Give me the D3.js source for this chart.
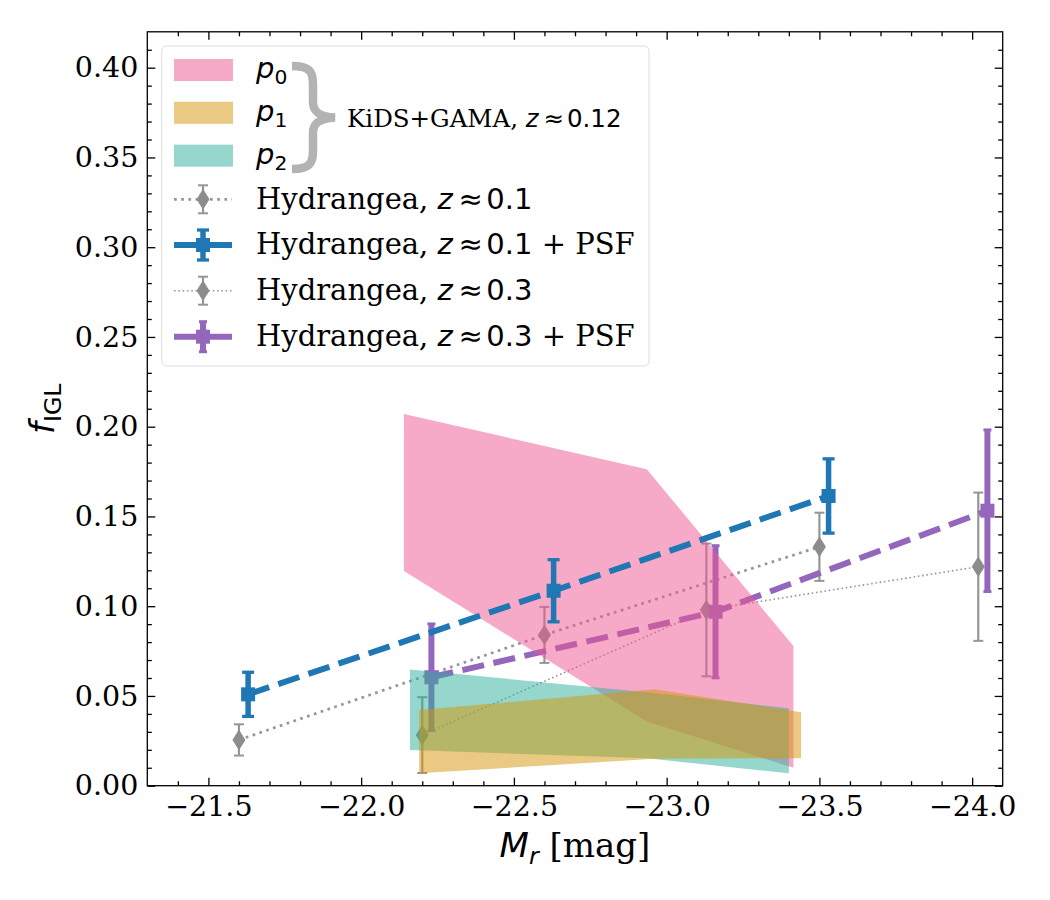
<!DOCTYPE html>
<html>
<head>
<meta charset="utf-8">
<script src="https://cdn.jsdelivr.net/npm/d3@7"></script>
<style>
  body { margin: 0; background: #fff; }
  text { white-space: pre; }
</style>
</head>
<body>
<div id="chart"></div>
<script>
// ---- values ----
// KiDS+GAMA bands (fill between lo and hi)
var p0_M  = [-22.14, -22.935, -23.415];
var p0_lo = [0.1196, 0.0357, 0.0100];
var p0_hi = [0.2071, 0.1763, 0.0778];
var p1_M  = [-22.19, -22.96, -23.44];
var p1_lo = [0.0069, 0.0150, 0.0153];
var p1_hi = [0.0422, 0.0537, 0.0409];
var p2_M  = [-22.16, -22.935, -23.40];
var p2_lo = [0.0199, 0.0153, 0.0069];
var p2_hi = [0.0648, 0.0520, 0.0431];

// Hydrangea points
var h01_M   = [-21.60, -22.60, -23.50];
var h01_f   = [0.0255, 0.0840, 0.1331];
var h01_err = [0.0087, 0.0156, 0.0190];
var h01psf_M   = [-21.63, -22.63, -23.53];
var h01psf_f   = [0.0509, 0.1086, 0.1614];
var h01psf_err = [0.0123, 0.0173, 0.0207];
var h03_M   = [-22.20, -23.13, -24.02];
var h03_f   = [0.0282, 0.0979, 0.1220];
var h03_err = [0.0211, 0.0370, 0.0413];
var h03psf_M   = [-22.23, -23.16, -24.05];
var h03psf_f   = [0.0604, 0.0969, 0.1532];
var h03psf_err = [0.0297, 0.0368, 0.0450];

var xTicks = [-21.5, -22.0, -22.5, -23.0, -23.5, -24.0];
var yTicks = [0, 0.05, 0.10, 0.15, 0.20, 0.25, 0.30, 0.35, 0.40];

var pinkC = "rgba(237,85,143,0.5)";
var goldC = "rgba(213,149,5,0.5)";
var tealC = "rgba(45,175,155,0.5)";
var blueC = "#1f77b4";
var purpC = "#9467bd";
var greyC = "#969696";

// ---- setup ----
var W = 1050, H = 900;
var svg = d3.select("#chart").append("svg")
    .attr("width", W).attr("height", H)
    .style("font-family", "'DejaVu Serif'");

var x = d3.scaleLinear().domain([-21.3, -24.1]).range([147.3, 1002.7]);
var y = d3.scaleLinear().domain([0, 0.42]).range([785.7, 31.8]);

// mathtext-ish label: parts of {t, f: serif|sans|it, sub, dx}
function mathText(sel, parts, size) {
  var shift = 0;
  parts.forEach(function(p) {
    var ts = sel.append("tspan").text(p.t);
    var fam = p.f === "serif" ? "DejaVu Serif" : "DejaVu Sans";
    ts.style("font-family", "'" + fam + "'");
    if (p.f === "it") ts.style("font-style", "italic");
    var want = p.sub ? 0.22 * size : 0;
    if (want !== shift) { ts.attr("dy", want - shift); shift = want; }
    if (p.dx) ts.attr("dx", p.dx);
    ts.style("font-size", (p.sub ? 0.7 * size : size) + "px");
  });
  return sel;
}

// "z ≈ v" the way mathtext spaces it
function zApprox(v, size) {
  return [{t: "z", f: "it"}, {t: "≈", f: "sans", dx: 0.2 * size}, {t: v, f: "sans", dx: 0.12 * size}];
}

// ---- series draw helpers ----
function drawBand(M, lo, hi, color) {
  var pts = M.map(function(m, i) { return {m: m, lo: lo[i], hi: hi[i]}; });
  svg.append("path").datum(pts)
    .attr("fill", color)
    .attr("d", d3.area().x(function(d){ return x(d.m); })
      .y0(function(d){ return y(d.lo); }).y1(function(d){ return y(d.hi); }));
}

function drawErrSeries(M, f, err, s) {
  var g = svg.append("g");
  var pts = M.map(function(m, i) { return {m: m, f: f[i], e: err[i]}; });
  g.append("path").datum(pts)
    .attr("fill", "none").attr("stroke", s.color).attr("stroke-width", s.lw)
    .attr("stroke-dasharray", s.dash)
    .attr("d", d3.line().x(function(d){ return x(d.m); }).y(function(d){ return y(d.f); }));
  pts.forEach(function(d) {
    var cx = x(d.m), cy = y(d.f);
    errMark(g, cx, y(d.f + d.e), y(d.f - d.e), s);
    marker(g, cx, cy, s);
  });
}

function errMark(g, cx, yTop, yBot, s) {
  g.append("line").attr("x1", cx).attr("x2", cx).attr("y1", yTop).attr("y2", yBot)
    .attr("stroke", s.ecolor || s.color).attr("stroke-width", s.elw);
  [yTop, yBot].forEach(function(yy) {
    g.append("line").attr("x1", cx - s.cap / 2).attr("x2", cx + s.cap / 2)
      .attr("y1", yy).attr("y2", yy)
      .attr("stroke", s.ecolor || s.color).attr("stroke-width", s.capw);
  });
}

function marker(g, cx, cy, s) {
  if (s.mk === "sq") {
    g.append("rect").attr("x", cx - 7).attr("y", cy - 7).attr("width", 14).attr("height", 14)
      .attr("fill", s.color);
  } else {
    g.append("path")
      .attr("d", "M" + cx + "," + (cy - 9.5) + "L" + (cx + 6) + "," + cy + "L" + cx + "," + (cy + 9.5) + "L" + (cx - 6) + "," + cy + "Z")
      .attr("fill", "#8c8c8c").attr("stroke", "#8c8c8c").attr("stroke-width", 1);
  }
}

var sH01 = {color: greyC, lw: 2.7, dash: "2.7,4.5", elw: 2.2, cap: 10, capw: 2, mk: "d"};
var sH03 = {color: greyC, lw: 1.6, dash: "1.6,2.7", elw: 2.2, cap: 10, capw: 2, mk: "d"};
var sPSF01 = {color: blueC, lw: 6, dash: "22.2,9.6", elw: 5.5, cap: 12, capw: 3.3, mk: "sq"};
var sPSF03 = {color: purpC, lw: 6, dash: "22.2,9.6", elw: 6, cap: 8, capw: 3, mk: "sq"};

// draw order as in the figure: grey + purple below the bands, blue on top
drawErrSeries(h01_M, h01_f, h01_err, sH01);
drawErrSeries(h03_M, h03_f, h03_err, sH03);
drawErrSeries(h03psf_M, h03psf_f, h03psf_err, sPSF03);
drawBand(p0_M, p0_lo, p0_hi, pinkC);
drawBand(p2_M, p2_lo, p2_hi, tealC);
drawBand(p1_M, p1_lo, p1_hi, goldC);
drawErrSeries(h01psf_M, h01psf_f, h01psf_err, sPSF01);

// ---- axes ----
var x0 = x.range()[0], x1 = x.range()[1], yb = y.range()[0], yt = y.range()[1];
var xMinor = d3.range(-21.4, -24.05, -0.1).map(function(v){ return +v.toFixed(1); })
  .filter(function(v){ return xTicks.indexOf(v) < 0; });
var yMinor = d3.range(0.01, 0.415, 0.01).map(function(v){ return +v.toFixed(2); })
  .filter(function(v){ return Math.round(v * 100) % 5 !== 0; });

function styleAxis(g) {
  g.select(".domain").remove();
  g.selectAll("line").attr("stroke", "#000").attr("stroke-width", 1.3);
  g.selectAll("text").attr("fill", "#000").style("font-family", "'DejaVu Serif'").style("font-size", "28.5px");
}

svg.append("g").attr("transform", "translate(0," + yb + ")")
  .call(d3.axisBottom(x).tickValues(xTicks).tickFormat(d3.format(".1f")).tickSizeInner(-8).tickSizeOuter(0).tickPadding(10))
  .call(styleAxis);
svg.append("g").attr("transform", "translate(0," + yb + ")")
  .call(d3.axisBottom(x).tickValues(xMinor).tickFormat("").tickSizeInner(-4.5).tickSizeOuter(0))
  .call(styleAxis);
svg.append("g").attr("transform", "translate(0," + yt + ")")
  .call(d3.axisTop(x).tickValues(xTicks).tickFormat("").tickSizeInner(-8).tickSizeOuter(0))
  .call(styleAxis);
svg.append("g").attr("transform", "translate(0," + yt + ")")
  .call(d3.axisTop(x).tickValues(xMinor).tickFormat("").tickSizeInner(-4.5).tickSizeOuter(0))
  .call(styleAxis);

svg.append("g").attr("transform", "translate(" + x0 + ",0)")
  .call(d3.axisLeft(y).tickValues(yTicks).tickFormat(d3.format(".2f")).tickSizeInner(-8).tickSizeOuter(0).tickPadding(9))
  .call(styleAxis);
svg.append("g").attr("transform", "translate(" + x0 + ",0)")
  .call(d3.axisLeft(y).tickValues(yMinor).tickFormat("").tickSizeInner(-4.5).tickSizeOuter(0))
  .call(styleAxis);
svg.append("g").attr("transform", "translate(" + x1 + ",0)")
  .call(d3.axisRight(y).tickValues(yTicks).tickFormat("").tickSizeInner(-8).tickSizeOuter(0))
  .call(styleAxis);
svg.append("g").attr("transform", "translate(" + x1 + ",0)")
  .call(d3.axisRight(y).tickValues(yMinor).tickFormat("").tickSizeInner(-4.5).tickSizeOuter(0))
  .call(styleAxis);

svg.append("rect").attr("x", x0).attr("y", yt).attr("width", x1 - x0).attr("height", yb - yt)
  .attr("fill", "none").attr("stroke", "#000").attr("stroke-width", 1.3);

// axis labels
mathText(svg.append("text").attr("x", (x0 + x1) / 2).attr("y", 857).attr("text-anchor", "middle"),
  [{t: "M", f: "it"}, {t: "r", f: "it", sub: true}, {t: " [mag]", f: "serif"}], 34);
mathText(svg.append("text").attr("transform", "translate(54," + ((yb + yt) / 2) + ") rotate(-90)")
  .attr("text-anchor", "middle"),
  [{t: "f", f: "it"}, {t: "IGL", f: "sans", sub: true}], 34);

// ---- legend ----
var lg = svg.append("g");
lg.append("rect").attr("x", 161.7).attr("y", 46).attr("width", 487.3).attr("height", 320).attr("rx", 5)
  .attr("fill", "rgba(255,255,255,0.8)").attr("stroke", "#dcdcdc").attr("stroke-width", 1);

var bandItems = [
  {c: pinkC, sub: "0", cy: 70},
  {c: goldC, sub: "1", cy: 112.8},
  {c: tealC, sub: "2", cy: 155.7}
];
bandItems.forEach(function(b) {
  lg.append("rect").attr("x", 174).attr("y", b.cy - 11).attr("width", 59).attr("height", 22).attr("fill", b.c);
  mathText(lg.append("text").attr("x", 256).attr("y", b.cy + 8), [{t: "p", f: "it"}, {t: b.sub, f: "sans", sub: true}], 29);
});

lg.append("path")
  .attr("d", "M292,66 C309,66 313,71 313,84 L313,102 C313,111 318,116.5 335,117.5 C318,118.5 313,124 313,133 L313,151 C313,164 309,169 292,169")
  .attr("fill", "none").attr("stroke", "#b3b3b3").attr("stroke-width", 8.5);
mathText(lg.append("text").attr("x", 347).attr("y", 126.5),
  [{t: "KiDS+GAMA, ", f: "serif"}].concat(zApprox("0.12", 24.5)), 24.5);

var lineItems = [
  {s: sH01, cy: 199.3, z: "0.1", psf: false, solid: false, eh: 14},
  {s: sPSF01, cy: 245, z: "0.1", psf: true, solid: true, eh: 15},
  {s: sH03, cy: 290.7, z: "0.3", psf: false, solid: false, eh: 14},
  {s: sPSF03, cy: 336.7, z: "0.3", psf: true, solid: true, eh: 15}
];
lineItems.forEach(function(it) {
  var g = lg.append("g");
  g.append("line").attr("x1", 174).attr("x2", 232).attr("y1", it.cy).attr("y2", it.cy)
    .attr("stroke", it.s.color).attr("stroke-width", it.s.lw)
    .attr("stroke-dasharray", it.solid ? null : it.s.dash);
  errMark(g, 203, it.cy - it.eh, it.cy + it.eh, it.s);
  marker(g, 203, it.cy, it.s);
  var parts = [{t: "Hydrangea, ", f: "serif"}].concat(zApprox(it.z, 29));
  if (it.psf) parts.push({t: " + PSF", f: "serif"});
  mathText(lg.append("text").attr("x", 256).attr("y", it.cy + 9.3), parts, 29);
});
</script>
</body>
</html>
